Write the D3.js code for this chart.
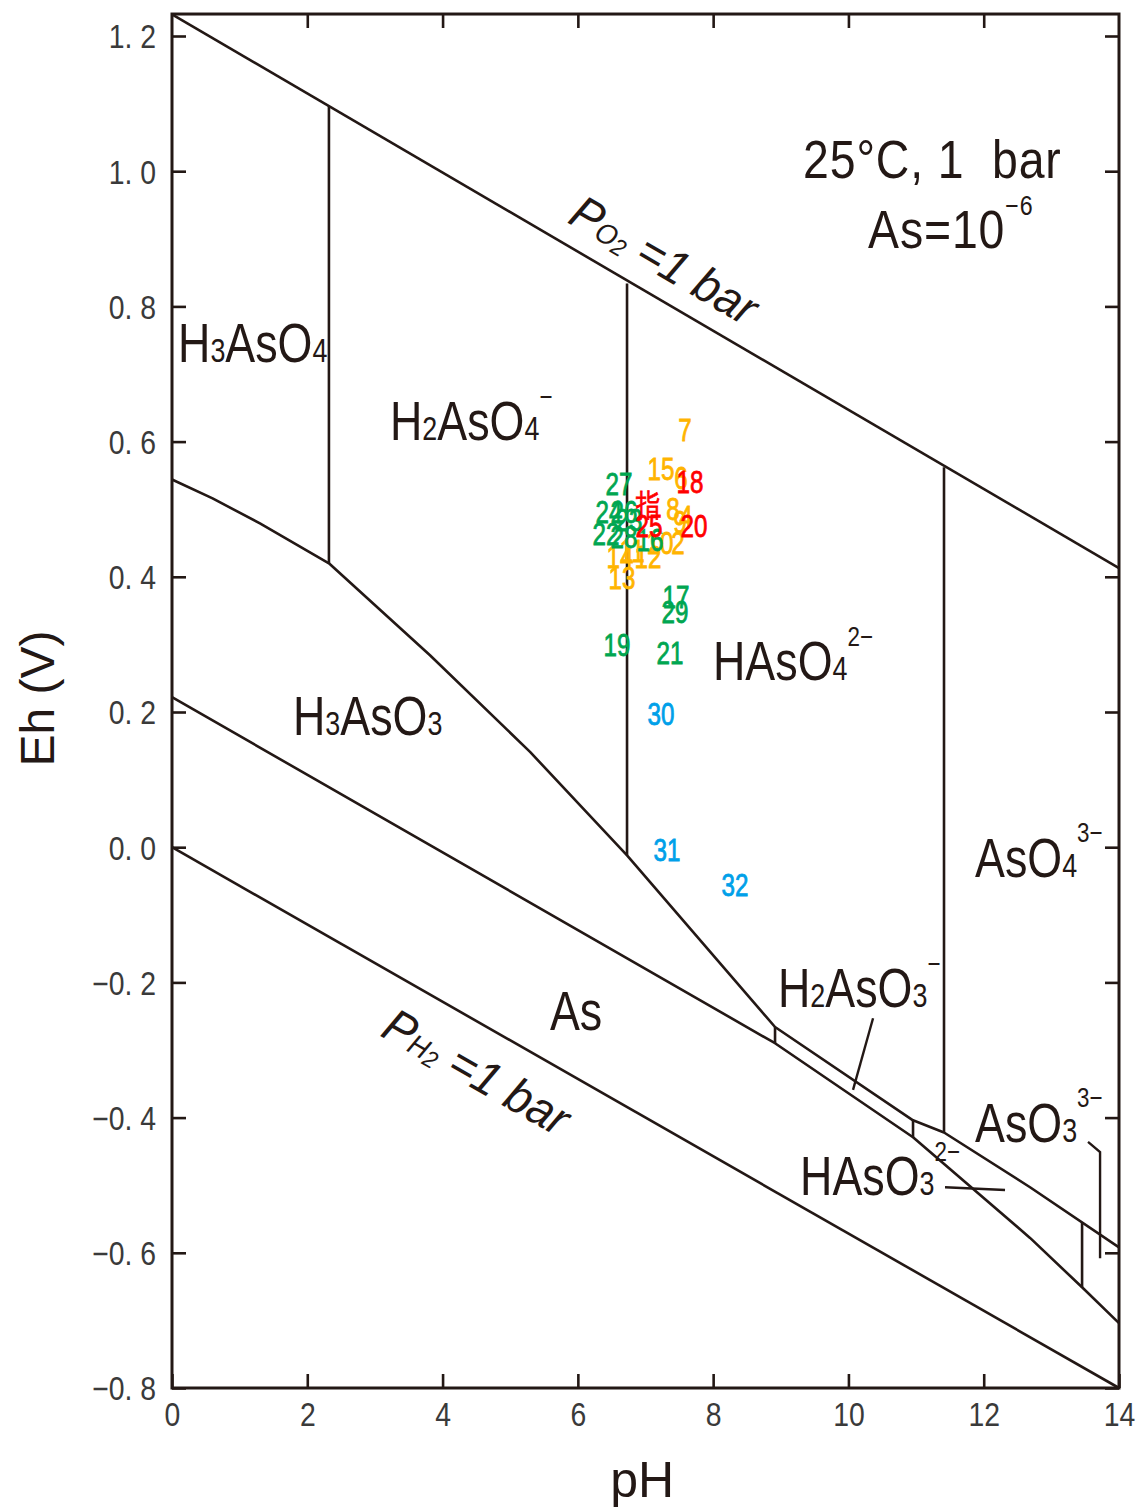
<!DOCTYPE html>
<html>
<head>
<meta charset="utf-8">
<script src="https://cdn.jsdelivr.net/npm/d3@7"></script>
<style>
  html, body { margin: 0; padding: 0; background: #fff; }
  svg { display: block; }
  text { font-family: "Liberation Sans", "Noto Sans", sans-serif; }
</style>
</head>
<body>
<svg id="chart" width="1143" height="1511"></svg>
<script>
// ---------- DATA ----------
const xTicks = [0, 2, 4, 6, 8, 10, 12, 14];
const yTicks = [-0.8, -0.6, -0.4, -0.2, 0.0, 0.2, 0.4, 0.6, 0.8, 1.0, 1.2];

// stability field boundaries (pH, Eh)
const lineO2 = [[0, 1.232], [14, 0.413]];
const lineH2 = [[0, 0.0], [14, -0.8]];
const arsenateUpper = [[0, 0.544], [0.6, 0.516], [1.3, 0.479], [2.32, 0.420], [3.814, 0.284], [5.293, 0.141], [6.727, -0.012], [8.915, -0.266], [10.955, -0.404], [11.413, -0.422], [12.685, -0.503], [14, -0.592]];
const arseniteLower = [[0, 0.222], [8.915, -0.290], [10.955, -0.429], [12.685, -0.578], [13.454, -0.651], [14, -0.704]];
const verticals = [
  [[2.32, 1.096], [2.32, 0.420]],
  [[6.727, 0.834], [6.727, -0.012]],
  [[11.413, 0.562], [11.413, -0.422]],
  [[8.915, -0.266], [8.915, -0.290]],
  [[10.955, -0.404], [10.955, -0.429]],
  [[13.454, -0.555], [13.454, -0.651]]
];
const leaders = [
  [[10.364, -0.253], [10.068, -0.359]],
  [[11.428, -0.503], [12.315, -0.507]],
  [[13.542, -0.436], [13.72, -0.451], [13.72, -0.608]]
];

// sample points: [label, pH, Eh]
const orangePts = [["7", 7.584, 0.617], ["15", 7.230, 0.559], ["6", 7.525, 0.546], ["8", 7.407, 0.500], ["4", 7.599, 0.488], ["9", 7.511, 0.482], ["10", 7.215, 0.450], ["2", 7.481, 0.450], ["14", 6.623, 0.430], ["11", 6.801, 0.439], ["12", 7.037, 0.430], ["13", 6.653, 0.398]];
const greenPts = [["27", 6.609, 0.537], ["24", 6.461, 0.496], ["26", 6.683, 0.496], ["23", 6.756, 0.484], ["22", 6.416, 0.464], ["28", 6.683, 0.459], ["16", 7.067, 0.454], ["17", 7.451, 0.371], ["29", 7.437, 0.348], ["19", 6.579, 0.299], ["21", 7.363, 0.288]];
const redPts = [["指", 7.037, 0.507], ["18", 7.658, 0.541], ["25", 7.052, 0.476], ["20", 7.717, 0.476]];
const bluePts = [["30", 7.230, 0.198], ["31", 7.318, -0.004], ["32", 8.324, -0.055]];

// species labels: parts [text, kind] kind: n normal, b subscript, p superscript ; position = left/baseline in (pH, Eh)
const speciesLabels = [
  { pos: [0.089, 0.7175], parts: [["H","n"],["3","b"],["AsO","n"],["4","b"]] },
  { pos: [3.223, 0.602], parts: [["H","n"],["2","b"],["AsO","n"],["4","b"],["−","p"]] },
  { pos: [1.789, 0.166], parts: [["H","n"],["3","b"],["AsO","n"],["3","b"]] },
  { pos: [7.998, 0.247], parts: [["HAsO","n"],["4","b"],["2−","p"]] },
  { pos: [11.872, -0.044], parts: [["AsO","n"],["4","b"],["3−","p"]] },
  { pos: [8.959, -0.237], parts: [["H","n"],["2","b"],["AsO","n"],["3","b"],["−","p"]] },
  { pos: [11.872, -0.436], parts: [["AsO","n"],["3","b"],["3−","p"]] },
  { pos: [9.285, -0.515], parts: [["HAsO","n"],["3","b"],["2−","p"]] },
  { pos: [5.588, -0.271], parts: [["As","n"]] }
];
const condLabels = [
  { pos: [9.329, 0.990], parts: [["25°C, 1\u00A0\u00A0bar","n"]] },
  { pos: [10.29, 0.886], parts: [["As=10","n"],["−6","p"]] }
];
const gasLabels = [
  { pos: [5.83, 0.925], angle: 30.3, parts: [["P","n"],["O","b"],["2","b2"],[" =1 bar","n"]] },
  { pos: [3.06, -0.278], angle: 29.7, parts: [["P","n"],["H","b"],["2","b2"],[" =1 bar","n"]] }
];

// ---------- CHART ----------
const ink = "#231815";
const svg = d3.select("#chart");
const x = d3.scaleLinear().domain([0, 14]).range([172, 1119]);
const y = d3.scaleLinear().domain([-0.8, 1.2]).range([1388, 36]);
const yTop = 1.2325;

const line = d3.line().x(d => x(d[0])).y(d => y(d[1]));

// axes
const fmtY = d => (d < 0 ? "−" : "") + Math.abs(d).toFixed(1).replace(".", ". ");
const gB = svg.append("g").attr("transform", `translate(0,${y(-0.8)})`)
  .call(d3.axisBottom(x).tickValues(xTicks).tickSizeInner(-14).tickSizeOuter(0).tickPadding(15).tickFormat(d3.format("d")));
const gL = svg.append("g").attr("transform", `translate(${x(0)},0)`)
  .call(d3.axisLeft(y).tickValues(yTicks).tickSizeInner(-14).tickSizeOuter(0).tickPadding(14).tickFormat(fmtY));
const gR = svg.append("g").attr("transform", `translate(${x(14)},0)`)
  .call(d3.axisRight(y).tickValues(yTicks).tickSizeInner(-14).tickSizeOuter(0).tickFormat(""));
const gT = svg.append("g").attr("transform", `translate(0,${y(yTop)})`)
  .call(d3.axisTop(x).tickValues(xTicks.slice(1, -1)).tickSizeInner(-14).tickSizeOuter(0).tickFormat(""));
[gB, gL, gR, gT].forEach(g => {
  g.select(".domain").remove();
  g.selectAll(".tick line").attr("stroke", ink).attr("stroke-width", 2.6);
  g.selectAll(".tick text").attr("fill", "#3a3a3a").style("font-size", "33px");
});
gL.selectAll(".tick text").attr("dy", "0.36em");
gL.selectAll(".tick text").each(function () {
  d3.select(this).attr("transform", `translate(-16,0) scale(0.86,1)`).attr("x", 0);
});
gB.selectAll(".tick text").attr("transform", "scale(0.86,1)");

// frame
svg.append("rect")
  .attr("x", x(0)).attr("y", y(yTop))
  .attr("width", x(14) - x(0)).attr("height", y(-0.8) - y(yTop))
  .attr("fill", "none").attr("stroke", ink).attr("stroke-width", 3);

// boundary lines
const bnd = svg.append("g").attr("fill", "none").attr("stroke", ink).attr("stroke-width", 2.6).attr("stroke-linejoin", "round");
[lineO2, lineH2, arsenateUpper, arseniteLower, ...verticals].forEach(p => bnd.append("path").attr("d", line(p)));
const ld = svg.append("g").attr("fill", "none").attr("stroke", ink).attr("stroke-width", 2.4);
leaders.forEach(p => ld.append("path").attr("d", line(p)));

// formula label helper
function drawLabel(parent, lab, size, sx, extra) {
  const t = parent.append("text")
    .attr("fill", ink).style("font-size", size + "px").attr("x", 0).attr("y", 0);
  const rot = lab.angle !== undefined ? ` rotate(${lab.angle})` : "";
  t.attr("transform", `translate(${x(lab.pos[0])},${y(lab.pos[1])})${rot} scale(${sx},1)`);
  if (extra) extra(t);
  let shift = 0;
  lab.parts.forEach(([s, k]) => {
    const ts = t.append("tspan").text(s);
    let target = 0;
    if (k === "b") { ts.style("font-size", (size * 0.6) + "px"); target = 0; }
    else if (k === "b2") { ts.style("font-size", (size * 0.5) + "px"); target = size * 0.08; }
    else if (k === "p") { ts.style("font-size", (size * 0.5) + "px"); target = -size * 0.62; }
    const dy = target - shift;
    if (dy !== 0) ts.attr("dy", dy);
    shift = target;
  });
}
const lg = svg.append("g");
speciesLabels.forEach(l => drawLabel(lg, l, 56, 0.8));
condLabels.forEach(l => drawLabel(lg, l, 54, 0.86, t => t.style("letter-spacing", "1px")));
gasLabels.forEach(l => drawLabel(lg, l, 48, 0.95, t => t.style("font-style", "italic")));

// axis titles
svg.append("text").attr("x", x(6.95)).attr("y", 1497).attr("text-anchor", "middle")
  .attr("fill", ink).style("font-size", "50px").text("pH");
svg.append("text").attr("transform", `translate(54,${y(0.22)}) rotate(-90)`).attr("text-anchor", "middle")
  .attr("fill", ink).style("font-size", "48px").text("Eh (V)");

// sample points as numbers
const ptsG = svg.append("g");
[[orangePts, "#FFB400"], [greenPts, "#00A651"], [redPts, "#FF0000"], [bluePts, "#00A0E9"]].forEach(([arr, col]) => {
  ptsG.selectAll(null).data(arr).enter().append("text")
    .attr("transform", d => `translate(${x(d[1])},${y(d[2])}) scale(0.78,1)`)
    .attr("text-anchor", "middle").attr("dy", "0.36em")
    .attr("fill", col).attr("stroke", col).attr("stroke-width", 0.8)
    .style("font-size", "31px")
    .text(d => d[0]);
});
</script>
</body>
</html>
